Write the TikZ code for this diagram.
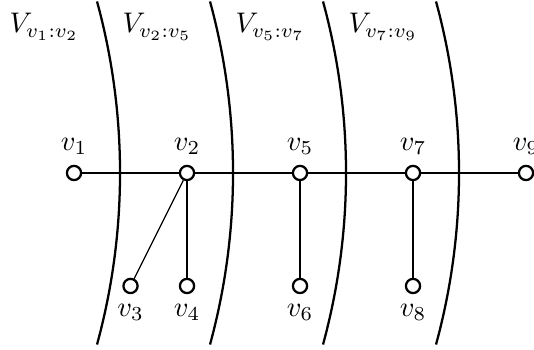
\documentclass[tikz,border=0pt]{standalone}
\usepackage{amsmath,amssymb}
\usetikzlibrary{positioning}

\begin{document}
\begin{tikzpicture}[
  vtx/.style={circle,draw,thick,fill=white,minimum size=5pt,inner sep=0pt},
  cut/.style={thick},
  part/.style={anchor=base},
]
\useasboundingbox (-0.917,-2.181) rectangle (5.699,2.143);
% ---- vertices on the path ----
\foreach \i/\x in {1/0,2/1.4,5/2.8,7/4.2,9/5.6}{
  \node[vtx,label={above:$v_{\i}$}] (v\i) at (\x,0) {};
}
% ---- hanging vertices ----
\foreach \i/\x in {3/0.7,4/1.4,6/2.8,8/4.2}{
  \node[vtx,label={below:$v_{\i}$}] (v\i) at (\x,-1.4) {};
}
% ---- edges ----
\draw (v1) -- (v2) -- (v5) -- (v7) -- (v9);
\draw (v2) -- (v3);
\draw (v2) -- (v4);
\draw (v5) -- (v6);
\draw (v7) -- (v8);
% ---- separators and parts ----
\foreach \k/\a/\b in {0/1/2,1/2/5,2/5/7,3/7/9}{
  \draw[cut] ({0.285+1.4*\k},2.125) arc[start angle=15.28,end angle=-15.28,radius=8.065];
  \node[part] (V\a) at ({-0.37+1.4*\k},1.735) {$V_{v_{\a}:v_{\b}}$};
}
\end{tikzpicture}
\end{document}
